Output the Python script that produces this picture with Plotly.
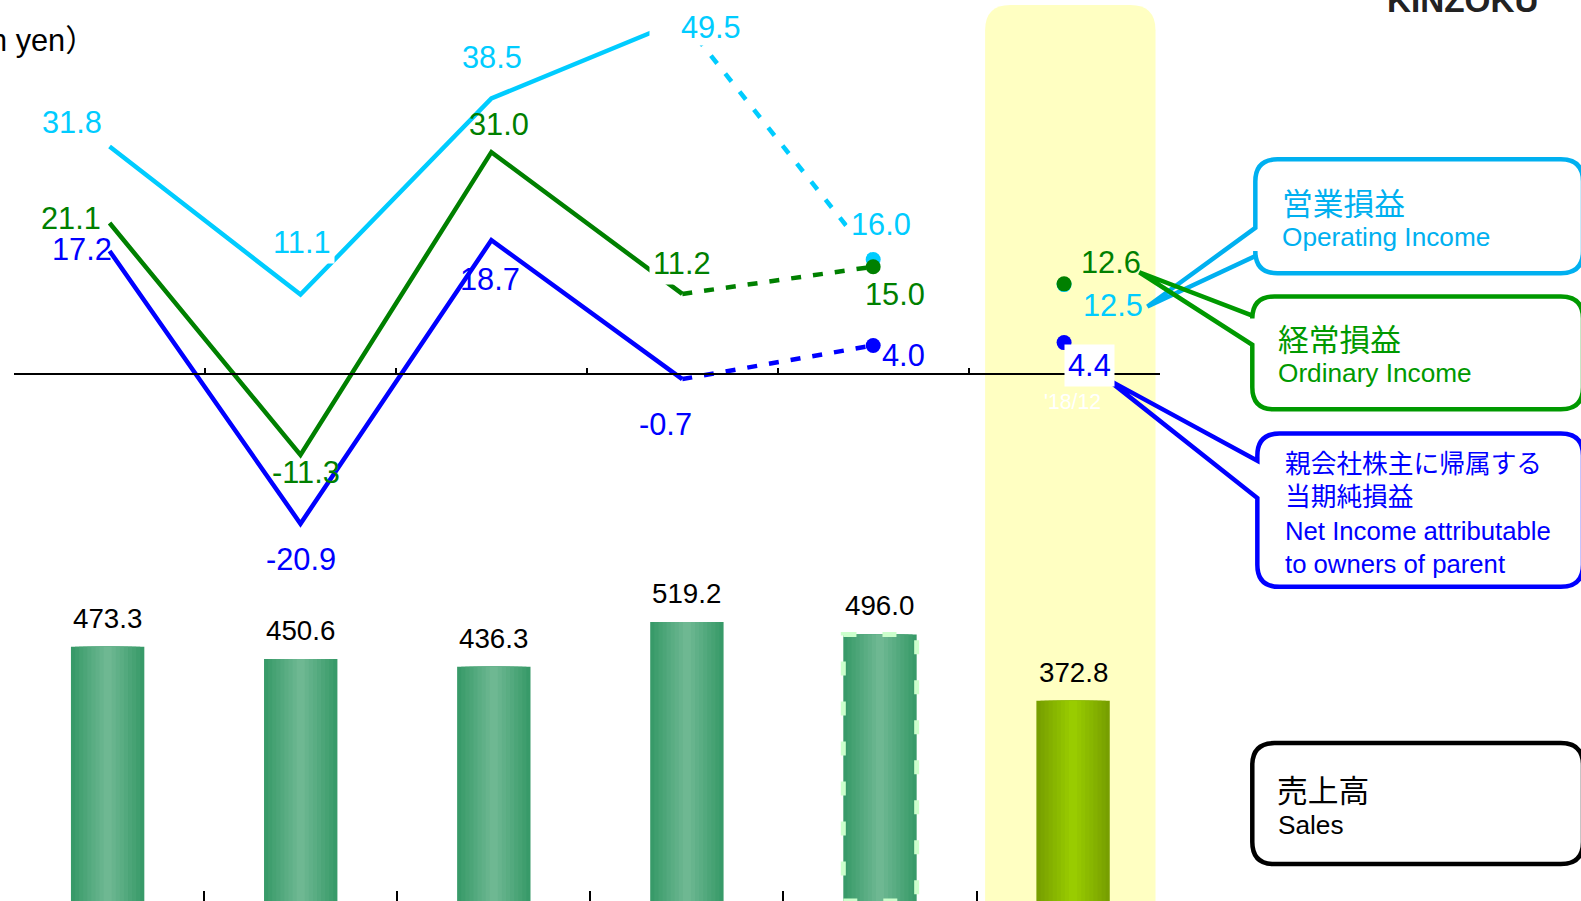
import plotly.graph_objects as go

W, H = 1581, 901
K = 1581 / 1568  # coordinates below were read on a 1568-px-wide view of the reference

# ---------------- data ----------------
x_idx = [0, 1, 2, 3, 4, 5]
period_labels = ["", "", "", "", "", "'18/12"]
sales = [473.3, 450.6, 436.3, 519.2, 496.0, 372.8]
operating = [31.8, 11.1, 38.5, 49.5, 16.0, 12.5]
ordinary = [21.1, -11.3, 31.0, 11.2, 15.0, 12.6]
net_income = [17.2, -20.9, 18.7, -0.7, 4.0, 4.4]

unit_text = "n yen）"
brand_text = "KINZOKU"
box_op = ["営業損益", "Operating Income"]
box_ord = ["経常損益", "Ordinary Income"]
box_net = ["親会社株主に帰属する", "当期純損益", "Net Income attributable", "to owners of parent"]
box_sales = ["売上高", "Sales"]

# ---------------- styles ----------------
FONT = "Liberation Sans, Arial, Noto Sans CJK JP, sans-serif"
JFONT = "Noto Sans CJK JP, Liberation Sans, sans-serif"
C_OP, C_ORD, C_NET = "#00CCFF", "#008000", "#0000FF"
C_OP_BOX, C_ORD_BOX = "#00B0F0", "#009900"

LINE_PX_PER_UNIT = 7.1 * K
ZERO_Y = 371 * K
BAR_TOP_REF = 617 * K                        # pixel row of the tallest bar top
BAR_PX_PER_UNIT = (H - BAR_TOP_REF) / max(sales)
LBL = 30.5 * K


def px(x):
    return x * K / W


def py(y):
    return 1 - y * K / H


def fs(s):
    return s * K


fig = go.Figure()

# ---------------- bars (layered to imitate the gradient) ----------------
N = 9
BW = 0.38
edge_g, mid_g = (56, 154, 105), (110, 184, 146)
edge_o, mid_o = (119, 159, 0), (153, 204, 0)


def mix(a, b, t):
    return "rgb(%d,%d,%d)" % tuple(round(a[i] + (b[i] - a[i]) * t) for i in range(3))


for k in range(N):
    t = k / (N - 1)
    f = 1 - k / N
    cols = [mix(edge_g, mid_g, t)] * 5 + [mix(edge_o, mid_o, t)]
    fig.add_trace(go.Bar(
        x=x_idx, y=sales, width=[BW * f] * len(x_idx),
        marker=dict(color=cols, line=dict(width=0)),
        xaxis="x2", yaxis="y2", hoverinfo="skip", showlegend=False,
    ))

for i, v in enumerate(sales):
    fig.add_annotation(xref="x2", yref="y2", x=x_idx[i], y=v, text=f"{v:.1f}",
                       showarrow=False, yanchor="bottom", yshift=11 * K,
                       font=dict(family=FONT, size=fs(27.5), color="black"))

# dashed outline of the forecast bar
fig.add_shape(type="rect", xref="x2", yref="y2",
              x0=x_idx[4] - BW / 2, x1=x_idx[4] + BW / 2, y0=0, y1=sales[4],
              line=dict(color="#CCFFCC", width=5, dash="14px,26px"),
              fillcolor="rgba(0,0,0,0)", layer="above")

# ---------------- lines ----------------
series = [
    (operating, C_OP, "10px,13px"),
    (ordinary, C_ORD, "10px,12px"),
    (net_income, C_NET, "10px,12px"),
]
for vals, col, dash in series:
    fig.add_trace(go.Scatter(x=x_idx[:4], y=vals[:4], mode="lines",
                             line=dict(color=col, width=4.5),
                             hoverinfo="skip", showlegend=False))
    fig.add_trace(go.Scatter(x=x_idx[3:5], y=vals[3:5], mode="lines",
                             line=dict(color=col, width=4.5, dash=dash),
                             hoverinfo="skip", showlegend=False))
    fig.add_trace(go.Scatter(x=x_idx[4:6], y=vals[4:6], mode="markers",
                             marker=dict(color=col, size=15),
                             hoverinfo="skip", showlegend=False))

# label offsets in pixels (x right, y up)
off_op = [(-37, 24), (2, 52), (1, 41), (13, -2), (8, 35), (49, -21)]
off_ord = [(-38, 4), (5, -17), (8, 27), (0, 30), (22, -28), (47, 21)]
off_net = [(-27, 1), (1, -36), (-1, -39), (-17, -45), (30, -10), (25, -23)]
bg_op = [False, True, False, True, True, False]
bg_ord = [False, False, False, True, False, False]
bg_net = [False, False, False, False, False, True]

for vals, col, offs, bgs, sname in [(operating, C_OP, off_op, bg_op, "op"),
                                    (ordinary, C_ORD, off_ord, bg_ord, "ord"),
                                    (net_income, C_NET, off_net, bg_net, "net")]:
    for i, v in enumerate(vals):
        kw = {}
        if bgs[i]:
            kw = dict(bgcolor="white", borderpad=3)
        if sname == "op" and i == 3:
            kw = dict(bgcolor="white", width=90 * K, height=46 * K, align="right",
                      valign="bottom", borderpad=0)
        fig.add_annotation(xref="x", yref="y", x=x_idx[i], y=v, text=f"{v:.1f}",
                           showarrow=False, xshift=offs[i][0] * K, yshift=offs[i][1] * K,
                           font=dict(family=FONT, size=LBL, color=col), **kw)

# period label (white on the highlighted column)
fig.add_annotation(xref="x", yref="y", x=x_idx[5], y=0, text=period_labels[5],
                   showarrow=False, xshift=8 * K, yshift=-27 * K,
                   font=dict(family=FONT, size=fs(21), color="white"))

# ---------------- highlight column ----------------
r = 25
L, R, T, B = 977, 1146, 5, 901
fig.add_shape(type="path", xref="paper", yref="paper", layer="below",
              path=(f"M {px(L)},{py(B)} L {px(L)},{py(T + r)} Q {px(L)},{py(T)} {px(L + r)},{py(T)} "
                    f"L {px(R - r)},{py(T)} Q {px(R)},{py(T)} {px(R)},{py(T + r)} L {px(R)},{py(B)} Z"),
              fillcolor="#FFFFC2", line=dict(width=0))


# ---------------- callout boxes ----------------
def callout(L, T, R, B, rr, ptr=None):
    P = lambda x, y: f"{px(x):.5f},{py(y):.5f}"
    s = (f"M {P(L + rr, T)} L {P(R - rr, T)} Q {P(R, T)} {P(R, T + rr)} "
         f"L {P(R, B - rr)} Q {P(R, B)} {P(R - rr, B)} L {P(L + rr, B)} Q {P(L, B)} {P(L, B - rr)} ")
    if ptr:
        ya, yb, tx, ty = ptr
        s += f"L {P(L, yb)} L {P(tx, ty)} L {P(L, ya)} "
    s += f"L {P(L, T + rr)} Q {P(L, T)} {P(L + rr, T)} Z"
    return s


BR = 1570
boxes = [
    ((1245, 158, BR, 271, 22, (226, 254, 1138, 304)), C_OP_BOX),
    ((1242, 294, BR, 406, 22, (313, 342, 1130, 270)), C_ORD_BOX),
    ((1247, 430, BR, 582, 22, (457, 494, 1098, 376)), C_NET),
    ((1242, 737, BR, 857, 22, None), "#000000"),
]
for (bL, bT, bR, bB, rr, ptr), col in boxes:
    fig.add_shape(type="path", xref="paper", yref="paper", layer="above",
                  path=callout(bL, bT, bR, bB, rr, ptr),
                  line=dict(color=col, width=4.5), fillcolor="rgba(0,0,0,0)")


def text_at(x, y, txt, size, col, fam=FONT, anchor="left", bold=False):
    fig.add_annotation(xref="paper", yref="paper", x=px(x), y=py(y), text=f"<b>{txt}</b>" if bold else txt,
                       showarrow=False, xanchor=anchor, yanchor="middle", align="left",
                       font=dict(family=fam, size=fs(size), color=col))


text_at(1269, 200, box_op[0], 30.5, C_OP_BOX, JFONT)
text_at(1269, 235, box_op[1], 26, C_OP_BOX)
text_at(1266, 335, box_ord[0], 30.5, C_ORD_BOX, JFONT)
text_at(1266, 370, box_ord[1], 26, C_ORD_BOX)
text_at(1272, 510, "<br>".join(box_net), 25.5, C_NET, FONT)
text_at(1265, 782, box_sales[0], 30.5, "black", JFONT)
text_at(1266, 818, box_sales[1], 26, "black")

text_at(97, 40, unit_text, 30.5, "black", FONT, anchor="right")
text_at(1451, 0, brand_text, 33, "#222222", FONT, anchor="center", bold=True)

# ---------------- layout ----------------
fig.update_layout(
    width=W, height=H, margin=dict(l=0, r=0, t=0, b=0),
    paper_bgcolor="white", plot_bgcolor="rgba(0,0,0,0)",
    barmode="overlay", showlegend=False,
    xaxis=dict(domain=[px(14), px(1150)], range=[-0.5, 5.5], anchor="free", position=1 - ZERO_Y / H,
               showline=True, linecolor="black", linewidth=1.5,
               ticks="inside", ticklen=5, tickwidth=1.5, tickcolor="black",
               tickvals=[i - 0.5 for i in range(7)], showticklabels=False,
               showgrid=False, zeroline=False, fixedrange=True),
    yaxis=dict(domain=[0, 1], range=[-(H - ZERO_Y) / LINE_PX_PER_UNIT, ZERO_Y / LINE_PX_PER_UNIT],
               visible=False, fixedrange=True),
    xaxis2=dict(domain=[px(11), px(1160)], range=[-0.5, 5.5], anchor="y2",
                showline=False, ticks="inside", ticklen=10, tickwidth=1.5, tickcolor="black",
                tickvals=[i - 0.5 for i in range(7)], showticklabels=False,
                showgrid=False, zeroline=False, fixedrange=True),
    yaxis2=dict(domain=[0, 1], range=[0, H / BAR_PX_PER_UNIT], visible=False, fixedrange=True),
)

fig.write_html("out.html", config={"displayModeBar": False},
               post_script="document.body.style.margin='0';document.body.style.overflow='hidden';")
